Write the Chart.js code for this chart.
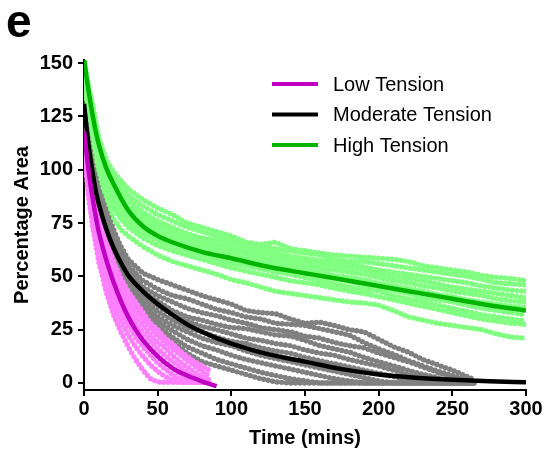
<!DOCTYPE html>
<html lang="en">
<head>
<meta charset="UTF-8">
<title>Percentage Area</title>
<script src="https://cdn.jsdelivr.net/npm/chart.js"></script>
<style>
  html, body { margin: 0; padding: 0; background: #fff; }
</style>
</head>
<body>
<canvas id="grafico" width="546" height="450"></canvas>
<script>
// ticks
const xTicks = [0, 50, 100, 150, 200, 250, 300];
const yTicks = [0, 25, 50, 75, 100, 125, 150];

// fitted curves
const lowFitTime = [0, 2, 4, 6, 8, 10, 15, 20, 25, 30, 35, 40, 50, 60, 70, 80, 90];
const lowFit = [118, 106, 95, 86, 78, 71, 58, 47.5, 38.5, 31, 25, 20, 12.5, 7, 3.5, 0.8, -1.5];
const modFitTime = [0, 2, 4, 6, 8, 10, 15, 20, 25, 30, 40, 50, 60, 70, 80, 90, 100, 125, 150, 175, 200, 225, 250, 275, 300];
const modFit = [131, 118, 107, 98, 90, 84, 72.5, 63.5, 56.5, 50.5, 43, 37, 32, 27.5, 24, 21, 18.5, 13.5, 10, 6.5, 4, 2.5, 1.5, 0.8, 0.3];
const highFitTime = [0, 2, 4, 6, 8, 10, 15, 20, 30, 40, 50, 60, 80, 100, 125, 150, 175, 200, 225, 250, 275, 300];
const highFit = [152, 142, 133, 125, 118, 112, 101, 93.5, 81, 73.5, 69, 66, 61.5, 58.5, 54.5, 51.5, 48.5, 45.5, 42.5, 39.5, 36.5, 34];

// replicate traces - low tension
const lowTime = [0, 3, 6, 10, 15, 20, 25, 30, 35, 40, 45, 50, 55, 60, 65, 70, 75, 80, 85];
const low1 = [118, 104, 92, 77, 66, 57, 49, 43, 38, 33, 28, 25, 21, 18.5, 15, 12.5, 10, 8, 6];
const low2 = [116, 101, 89, 74, 62, 53, 45, 40, 34, 29.5, 26, 22, 19, 16, 13.5, 10.5, 8, 5.5, 3.5];
const low3 = [115, 99, 86, 71, 59, 51, 42.5, 36.5, 31, 27, 22.5, 19, 16.5, 13, 10, 7.5, 5, 3, 1.5];
const low4 = [114, 97, 84, 68, 56, 47, 40, 34, 28, 23.5, 20, 16, 13, 10, 7.5, 5, 3, 1.5, 0.5];
const low5 = [113, 95, 81, 66, 53, 44, 37, 30.5, 25, 20.5, 16.5, 13, 10, 7, 4.5, 2.5, 1, 0.5, 0.3];
const low6 = [112, 93, 79, 63, 50, 41, 33.5, 27, 21.5, 17, 13, 9.5, 6.5, 4, 2, 1, 0.5, 0.3, 0.3];
const low7 = [111, 91, 76, 60, 47, 37, 29, 22.5, 17, 12.5, 8.5, 5.5, 3, 1.5, 0.5, 0.3, 0.3, 0.3, 0.3];
const low8 = [110, 88, 73, 57, 43, 32, 24, 17, 11, 6, 2, 0.5, 0.3, 0.3, 0.3, 0.3, 0.3, 0.3, 0.3];

// replicate traces - moderate tension
const modTime = [0, 3, 6, 10, 15, 20, 25, 30, 40, 50, 60, 70, 80, 90, 100, 110, 120, 130, 140, 150, 160, 170, 180, 190, 200, 210, 220, 230, 240, 250, 260, 265];
const mod1 = [128, 114, 102, 91, 81, 72, 64, 58, 51.5, 48.5, 46, 43.5, 41, 39, 37, 34, 33, 32.5, 30, 28, 28.5, 27, 25, 24, 20.5, 17, 14.5, 11, 8.5, 6, 3, 1.5];
const mod2 = [126, 111, 99, 88, 78, 69, 62, 55, 48, 44, 41, 39.5, 37, 34.5, 33, 31, 30, 28, 27.5, 27, 25.5, 24, 22.5, 19, 16, 13.5, 10.5, 8, 5.5, 3.5, 1.5, 0.5];
const mod3 = [125, 109, 97, 86, 75, 66, 59, 53, 45, 41, 38, 35, 33, 31.5, 29.5, 28, 26, 25, 24, 22, 21, 19, 17.5, 16.5, 14, 12, 10, 7.5, 5, 3, 1, 0];
const mod4 = [124, 108, 95, 84, 73, 64, 57, 51, 43, 38.5, 34, 31, 29.5, 27.5, 26, 25.5, 24, 22.5, 22, 20, 17.5, 16, 14.5, 12, 10, 8, 6, 4, 2.5, 1, 0, 0];
const mod5 = [123, 106, 94, 82, 71, 62, 55, 49, 41, 36, 32, 29, 26.5, 25, 23, 21, 20, 18.5, 17.5, 15.5, 14, 13, 11, 9.5, 8, 6, 4, 2.5, 1, 0, 0, 0];
const mod6 = [122, 105, 92, 80, 69, 60, 53, 47, 39, 33.5, 29.5, 26, 24, 21.5, 19.5, 18.5, 16.5, 15, 14, 12, 10.5, 9, 7.5, 6, 4.5, 3, 1.5, 0.5, 0, 0, 0, 0];
const mod7 = [121, 104, 91, 79, 67, 58, 51, 45, 37, 31, 27, 24, 21, 19, 17.5, 15, 13, 11.5, 10, 8.5, 7, 5.5, 4, 2.5, 1, 0, 0, 0, 0, 0, 0, 0];
const mod8 = [120, 103, 90, 78, 66, 57, 49, 43, 35, 29, 24.5, 20.5, 17.5, 15.5, 13, 11, 9.5, 8, 6.5, 5, 3.5, 2, 1, 0, 0, 0, 0, 0, 0, 0, 0, 0];
const mod9 = [119, 101, 89, 77, 65, 56, 48, 42, 34, 27, 21.5, 17, 14, 11, 9, 7, 5, 3.5, 2, 1, 0, 0, 0, 0, 0, 0, 0, 0, 0, 0, 0, 0];
const mod10 = [118, 100, 88, 75, 64, 55, 46, 40, 32, 25, 19.5, 14, 10, 8, 6, 4, 2, 0.5, 0, 0, 0, 0, 0, 0, 0, 0, 0, 0, 0, 0, 0, 0];

// replicate traces - high tension
const highTime = [0, 3, 6, 10, 15, 20, 25, 30, 40, 50, 60, 70, 80, 90, 100, 110, 120, 130, 140, 150, 160, 170, 180, 190, 200, 210, 220, 230, 240, 250, 260, 270, 280, 290, 300];
const high1 = [152, 140, 130, 115, 105, 99, 95, 91, 86, 82, 79, 75, 73, 71, 69, 66, 65, 66, 63, 62, 61, 60, 59.5, 59, 58.5, 58, 57, 55, 54, 53, 52, 50.5, 49.5, 49, 48];
const high2 = [150, 137, 126, 112, 102, 96, 92, 88, 83, 79, 76, 73, 71, 69, 67, 65.5, 64, 63, 62, 61, 60, 58, 57, 57, 56, 55, 54, 53, 52, 51, 50, 48.5, 47, 46.5, 46];
const high3 = [151, 136, 124, 110, 100, 94, 89, 86, 80, 76, 73, 70, 68, 67, 65.5, 64, 62.5, 61, 59.5, 58.5, 57.5, 56.5, 55.5, 54.5, 53, 52, 51, 50, 49, 48, 47, 45.5, 44.5, 43.5, 43];
const high4 = [149, 134, 122, 108, 98, 92, 87, 83, 78, 74, 71, 68.5, 66.5, 65, 63.5, 62, 61, 59.5, 58, 57, 56, 55, 54, 53, 51.5, 50, 49, 48, 46.5, 45, 44, 43, 42, 41, 40];
const high5 = [150, 133, 120, 106, 96, 90, 85, 81, 76, 72, 69, 67, 65, 63.5, 62, 60.5, 59, 57.5, 56.5, 55, 54, 53, 52, 51, 49.5, 48, 47, 45.5, 44.5, 43, 42, 41, 39.5, 38.5, 38];
const high6 = [148, 131, 118, 104, 94, 88, 83, 79, 74, 70.5, 68, 65.5, 63.5, 62, 60, 58.5, 57, 55.5, 54.5, 53, 52, 50.5, 49.5, 48.5, 47, 45.5, 44.5, 43, 41.5, 40.5, 39, 38, 37, 36, 35.5];
const high7 = [149, 130, 116, 102, 92, 86, 81, 77, 72, 68.5, 66, 63.5, 61.5, 59.5, 58, 56.5, 55, 54, 52.5, 51, 50, 49, 47.5, 46, 45, 43.5, 42, 40, 39, 38, 36.5, 35, 34, 33, 32];
const high8 = [147, 128, 114, 100, 90, 84, 79, 75, 70, 67, 64, 62, 60, 58, 56, 55, 53.5, 52, 51, 49.5, 48, 46.5, 45, 44, 43, 41, 39.5, 38, 36.5, 35, 33.5, 32, 31, 30, 29];
const high9 = [148, 126, 112, 98, 88, 82, 77, 73, 68, 64.5, 62, 60, 58, 56, 54, 52.5, 51, 49.5, 48, 47, 46, 44.5, 43, 42, 40.5, 39, 37.5, 36, 34.5, 33, 31.5, 30, 29, 28, 27.5];
const high10 = [146, 124, 108, 95, 85, 77, 72, 69, 64, 60, 57, 55, 53, 51, 48.5, 47, 45, 43, 42, 41, 40, 39, 38, 37.5, 36.5, 34, 31, 29.5, 28, 27, 26, 25, 23, 21.5, 21];

const legendLabels = ['Low Tension', 'Moderate Tension', 'High Tension'];
const fitColors = ['#c000c0', '#000000', '#00b400'];
const dotColors = ['#ff80ff', '#808080', '#80ff80'];

function pares(tempos, valores) {
    return valores.map(function (v, i) { return { x: tempos[i], y: v }; });
}

// cada replicata vira uma linha pontilhada (pontos redondos)
function replicata(tempos, valores, cor) {
    return {
        data: pares(tempos, valores),
        showLine: true,
        borderColor: cor,
        borderWidth: 5.4,
        borderDash: [0, 4.6],
        borderCapStyle: 'round',
        pointRadius: 0,
        fill: false,
        order: 2
    };
}

function ajuste(tempos, valores, cor, rotulo) {
    return {
        label: rotulo,
        data: pares(tempos, valores),
        showLine: true,
        borderColor: cor,
        borderWidth: 4.5,
        pointRadius: 0,
        cubicInterpolationMode: 'monotone',
        fill: false,
        order: 0
    };
}

let datasets = [];
[low1, low2, low3, low4, low5, low6, low7, low8].forEach(function (s) { datasets.push(replicata(lowTime, s, dotColors[0])); });
[mod1, mod2, mod3, mod4, mod5, mod6, mod7, mod8, mod9, mod10].forEach(function (s) { datasets.push(replicata(modTime, s, dotColors[1])); });
[high1, high2, high3, high4, high5, high6, high7, high8, high9, high10].forEach(function (s) { datasets.push(replicata(highTime, s, dotColors[2])); });
datasets.push(ajuste(lowFitTime, lowFit, fitColors[0], legendLabels[0]));
datasets.push(ajuste(modFitTime, modFit, fitColors[1], legendLabels[1]));
datasets.push(ajuste(highFitTime, highFit, fitColors[2], legendLabels[2]));

// letra do painel e legenda desenhadas por cima
const extras = {
    id: 'extras',
    afterDraw: function (chart) {
        const ctx = chart.ctx;
        ctx.save();
        ctx.fillStyle = '#000';
        ctx.font = 'bold 46px "Liberation Sans", Arial, sans-serif';
        ctx.textBaseline = 'alphabetic';
        ctx.textAlign = 'left';
        ctx.fillText('e', 6, 37);

        ctx.font = '20px "Liberation Sans", Arial, sans-serif';
        ctx.textBaseline = 'middle';
        for (let i = 0; i < legendLabels.length; i++) {
            const y = 84 + i * 30.5;
            ctx.strokeStyle = fitColors[i];
            ctx.lineWidth = 4;
            ctx.beginPath();
            ctx.moveTo(272, y);
            ctx.lineTo(318, y);
            ctx.stroke();
            ctx.fillStyle = '#000';
            ctx.fillText(legendLabels[i], 333, y + 1);
        }
        ctx.restore();
    }
};

const fonteTick = { family: '"Liberation Sans", Arial, sans-serif', size: 20, weight: 'bold' };

new Chart(document.getElementById('grafico'), {
    type: 'scatter',
    data: { datasets: datasets },
    plugins: [extras],
    options: {
        responsive: false,
        animation: false,
        layout: { padding: { top: 60, right: 20, left: 0, bottom: 0 } },
        plugins: { legend: { display: false }, tooltip: { enabled: false } },
        scales: {
            x: {
                type: 'linear',
                min: 0,
                max: 300,
                afterBuildTicks: function (scale) { scale.ticks = xTicks.map(function (v) { return { value: v }; }); },
                afterFit: function (scale) { scale.height = 60; },
                grid: { display: true, drawOnChartArea: false, drawTicks: true, tickLength: 6, color: '#000', lineWidth: 2 },
                border: { display: true, color: '#000', width: 2 },
                ticks: { color: '#000', font: fonteTick, padding: 1, maxRotation: 0 },
                title: { display: true, text: 'Time (mins)', color: '#000', font: fonteTick, padding: { top: 0, bottom: 0 } }
            },
            y: {
                min: -3.3,
                max: 151.5,
                afterBuildTicks: function (scale) { scale.ticks = yTicks.map(function (v) { return { value: v }; }); },
                afterFit: function (scale) { scale.width = 84; },
                grid: { display: true, drawOnChartArea: false, drawTicks: true, tickLength: 6, color: '#000', lineWidth: 2 },
                border: { display: true, color: '#000', width: 2 },
                ticks: { color: '#000', font: fonteTick, padding: 5 },
                title: { display: true, text: 'Percentage Area', color: '#000', font: fonteTick, padding: { top: 10, bottom: 0 } }
            }
        }
    }
});
</script>
</body>
</html>
